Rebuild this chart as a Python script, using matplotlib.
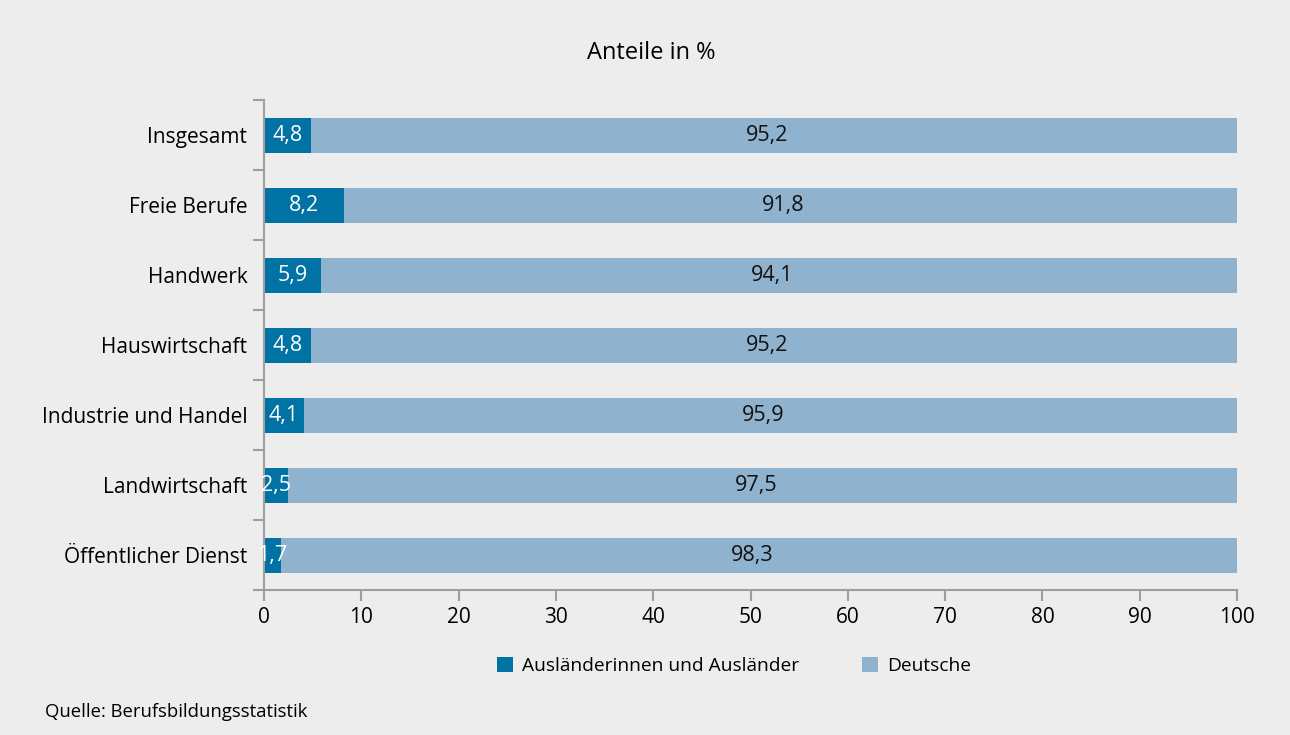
import numpy as np
import matplotlib

matplotlib.use("Agg")
import matplotlib.pyplot as plt
from matplotlib.patches import Patch

plt.rcParams["font.family"] = ["Open Sans", "DejaVu Sans"]

categories = ["Insgesamt", "Freie Berufe", "Handwerk", "Hauswirtschaft",
              "Industrie und Handel", "Landwirtschaft", "Öffentlicher Dienst"]
auslaender = [4.8, 8.2, 5.9, 4.8, 4.1, 2.5, 1.7]
deutsche = [95.2, 91.8, 94.1, 95.2, 95.9, 97.5, 98.3]
series_names = ["Ausländerinnen und Ausländer", "Deutsche"]

BG = "#ecedec"
DARK = "#0072a3"
LIGHT = "#8fb2cf"
GRID = "#9e9e9e"
FS = 15

fig = plt.figure(figsize=(12.9, 7.35), dpi=100, facecolor=BG)
ax = fig.add_axes([264 / 1290, 1 - 590 / 735, (1237 - 264) / 1290, 490 / 735])
ax.set_facecolor(BG)

y = np.arange(len(categories))
ax.barh(y, auslaender, height=0.5, color=DARK)
ax.barh(y, deutsche, left=auslaender, height=0.5, color=LIGHT)

for yi, a, d in zip(y, auslaender, deutsche):
    ax.text(a / 2, yi, f"{a:.1f}".replace(".", ","), ha="center", va="center",
            color="white", fontsize=15.5)
    # light segment labels sit a little left of the segment centre
    ax.annotate(f"{d:.1f}".replace(".", ","), (a + d / 2, yi), xytext=(-5, 0),
                textcoords="offset points", ha="center", va="center",
                color="#111111", fontsize=15.5)

ax.set_xlim(0, 100)
ax.set_ylim(len(categories) - 0.5, -0.5)
ax.set_xticks(np.arange(0, 101, 10))
ax.tick_params(axis="x", length=8, width=1.5, color=GRID, labelsize=FS, pad=4)
ax.set_yticks(y)
ax.set_yticklabels(categories)
ax.tick_params(axis="y", which="major", length=0, labelsize=FS, pad=12)
ax.set_yticks(np.arange(-0.5, len(categories)), minor=True)
ax.tick_params(axis="y", which="minor", length=8, width=1.5, color=GRID)

for side in ["top", "right"]:
    ax.spines[side].set_visible(False)
for side in ["left", "bottom"]:
    ax.spines[side].set_color(GRID)
    ax.spines[side].set_linewidth(1.5)

fig.text(651 / 1290, 1 - 53 / 735, "Anteile in %", ha="center", va="center",
         fontsize=17)

handles = [Patch(facecolor=DARK), Patch(facecolor=LIGHT)]
fig.legend(handles, series_names, loc="center", bbox_to_anchor=(734 / 1290, 1 - 666 / 735),
           ncol=2, frameon=False, fontsize=13.8, handlelength=0.85, handleheight=0.85,
           handletextpad=0.45, columnspacing=3.3)

fig.text(45 / 1290, 1 - 712 / 735, "Quelle: Berufsbildungsstatistik", ha="left",
         va="center", fontsize=13.3)

fig.savefig("out.png", dpi=100, facecolor=BG)
